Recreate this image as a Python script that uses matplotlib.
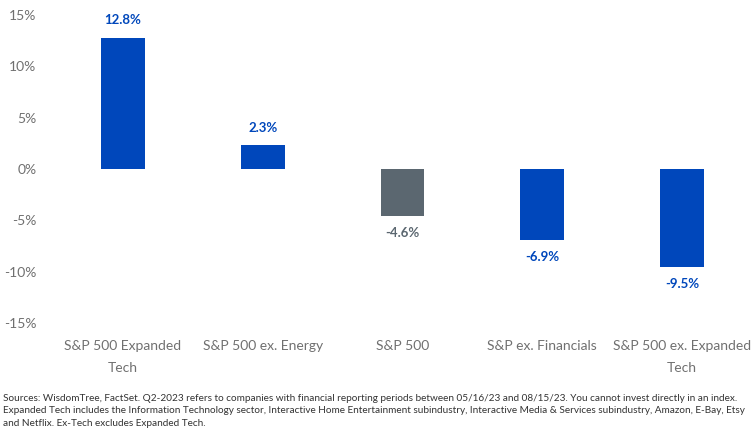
import matplotlib.pyplot as plt
from matplotlib.ticker import FuncFormatter

categories = ['S&P 500 Expanded\nTech', 'S&P 500 ex. Energy', 'S&P 500',
              'S&P ex. Financials', 'S&P 500 ex. Expanded\nTech']
values = [12.8, 2.3, -4.6, -6.9, -9.5]
colors = ['#0047BB', '#0047BB', '#5B6770', '#0047BB', '#0047BB']
yticks = [-15, -10, -5, 0, 5, 10, 15]

footnote = ('Sources: WisdomTree, FactSet. Q2-2023 refers to companies with financial reporting periods '
            'between 05/16/23 and 08/15/23. You cannot invest directly in an index.\n'
            'Expanded Tech includes the Information Technology sector, Interactive Home Entertainment '
            'subindustry, Interactive Media & Services subindustry, Amazon, E-Bay, Etsy\n'
            'and Netflix. Ex-Tech excludes Expanded Tech.')

plt.rcParams['font.family'] = ['Lato', 'DejaVu Sans']

fig = plt.figure(figsize=(7.52, 4.34), dpi=100)
ax = fig.add_axes([0.0705, 0.2558, 0.9295, 0.7096])

x = range(len(categories))
bars = ax.bar(x, values, width=0.314, color=colors)

for b, v, c in zip(bars, values, colors):
    xc = b.get_x() + b.get_width() / 2
    if v >= 0:
        ax.annotate(f'{v:.1f}%', (xc, v), xytext=(0, 8), textcoords='offset points',
                    ha='center', va='bottom', color=c, fontsize=9.5, fontweight='bold')
    else:
        ax.annotate(f'{v:.1f}%', (xc, v), xytext=(0, -8), textcoords='offset points',
                    ha='center', va='top', color=c, fontsize=9.5, fontweight='bold')

ax.set_xlim(-0.5, len(categories) - 0.5)
ax.set_ylim(-15, 15)
ax.set_yticks(yticks)
ax.yaxis.set_major_formatter(FuncFormatter(lambda v, p: f'{v:.0f}%'))
ax.set_xticks(list(x))
ax.set_xticklabels(categories, linespacing=2.0)
ax.tick_params(axis='both', length=0, colors='#707070', labelsize=10)
ax.tick_params(axis='x', pad=12)
ax.tick_params(axis='y', pad=12)
for s in ax.spines.values():
    s.set_visible(False)

fig.text(0.004, 0.014, footnote, fontsize=7.2, color='#333333', linespacing=1.5,
         ha='left', va='bottom')

fig.savefig('out.png', dpi=100)
